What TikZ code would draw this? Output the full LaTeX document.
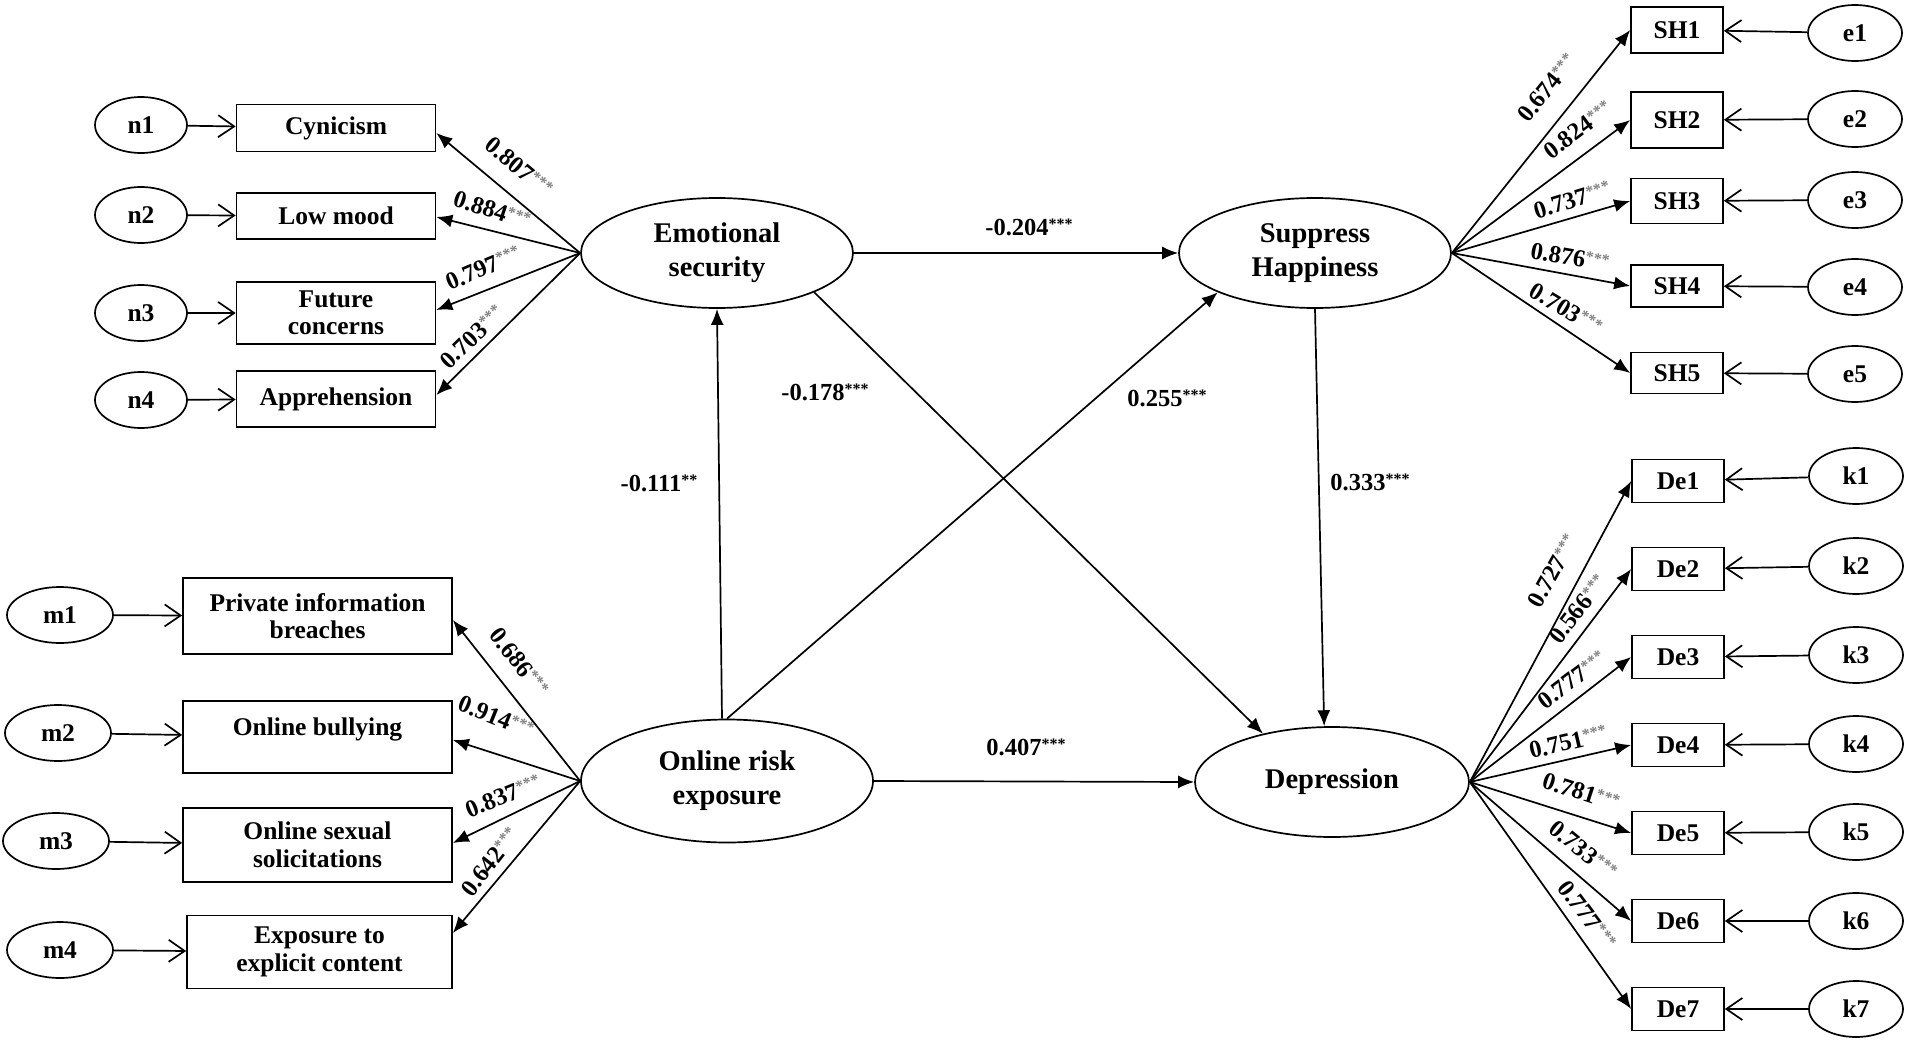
\documentclass[tikz,border=0pt]{standalone}
\usepackage{fontspec}
\setmainfont{Liberation Serif}
\usetikzlibrary{shapes.geometric,arrows.meta}
\newcommand{\myls}{\textcolor{gray}{\raisebox{6pt}{\fontsize{16}{16}\selectfont ***}}}
\newcommand{\myps}[1]{\raisebox{6pt}{\fontsize{16}{16}\selectfont #1}}
\tikzset{
  lat/.style={ellipse, draw, line width=1.7pt, inner sep=0pt, align=center,
    font=\fontsize{28.5}{34}\selectfont\bfseries},
  obs/.style={rectangle, draw, line width=1.7pt, inner sep=0pt, align=center,
    font=\fontsize{25.5}{27.5}\selectfont\bfseries},
  err/.style={ellipse, draw, line width=1.7pt, inner sep=0pt, minimum width=94pt,
    minimum height=56pt, font=\fontsize{25.5}{27}\selectfont\bfseries},
  ld/.style={inner sep=0pt, font=\fontsize{24.5}{26}\selectfont\bfseries},
  cp/.style={line width=1.7pt, -{Latex[length=16pt,width=13pt]}},
  ep/.style={line width=1.7pt, -{Straight Barb[length=16pt,width=22pt]}},
}
\begin{document}
\begin{tikzpicture}[x=1pt,y=-1pt]
\useasboundingbox (0,0) rectangle (1907,1046);
% latent variables
\node[lat, minimum width=272pt, minimum height=110pt] (ES) at (717,253) {Emotional\\security};
\node[lat, minimum width=272pt, minimum height=110pt] (SH) at (1315,253) {Suppress\\Happiness};
\node[lat, minimum width=292pt, minimum height=123pt] (ORE) at (727,781) {Online risk\\exposure};
\node[lat, minimum width=274pt, minimum height=110pt] (DEP) at (1332,782) {Depression};
% emotional security indicators
\node[obs, minimum width=199pt, minimum height=47pt] (cyn) at (336,128) {Cynicism};
\node[obs, minimum width=199pt, minimum height=46pt] (low) at (336,216) {Low mood};
\node[obs, minimum width=199pt, minimum height=62pt] (fut) at (336,313) {Future\\concerns};
\node[obs, minimum width=199pt, minimum height=56pt] (app) at (336,399) {Apprehension};
\node[err, minimum width=92pt] (n1) at (141,125) {n1};
\node[err, minimum width=92pt] (n2) at (141,215) {n2};
\node[err, minimum width=92pt] (n3) at (141,313) {n3};
\node[err, minimum width=92pt] (n4) at (141,400) {n4};
% online risk exposure indicators
\node[obs, minimum width=269pt, minimum height=76pt] (pib) at (317.5,616) {Private information\\breaches};
\node[obs, minimum width=269pt, minimum height=72pt, text height=18pt, text depth=21pt] (obl) at (317.5,737) {Online bullying};
\node[obs, minimum width=269pt, minimum height=74pt] (oss) at (317.5,845) {Online sexual\\solicitations};
\node[obs, minimum width=265pt, minimum height=73pt] (exc) at (319.5,952) {Exposure to\\explicit content};
\node[err, minimum width=106pt] (m1) at (60,615) {m1};
\node[err, minimum width=106pt] (m2) at (58,733) {m2};
\node[err, minimum width=106pt] (m3) at (56,841) {m3};
\node[err, minimum width=106pt] (m4) at (60,950) {m4};
% suppress happiness indicators
\node[obs, minimum width=92pt, minimum height=46pt] (sh1) at (1677,30) {SH1};
\node[obs, minimum width=92pt, minimum height=56pt] (sh2) at (1677,120) {SH2};
\node[obs, minimum width=92pt, minimum height=45pt] (sh3) at (1677,201) {SH3};
\node[obs, minimum width=92pt, minimum height=42pt] (sh4) at (1677,286) {SH4};
\node[obs, minimum width=92pt, minimum height=41pt] (sh5) at (1677,373) {SH5};
\node[err] (e1) at (1855,33) {e1};
\node[err] (e2) at (1855,119) {e2};
\node[err] (e3) at (1855,200) {e3};
\node[err] (e4) at (1855,287) {e4};
\node[err] (e5) at (1855,374) {e5};
% depression indicators
\node[obs, minimum width=92pt, minimum height=43pt] (de1) at (1678,481) {De1};
\node[obs, minimum width=92pt, minimum height=43pt] (de2) at (1678,569) {De2};
\node[obs, minimum width=92pt, minimum height=43pt] (de3) at (1678,657) {De3};
\node[obs, minimum width=92pt, minimum height=43pt] (de4) at (1678,745) {De4};
\node[obs, minimum width=92pt, minimum height=43pt] (de5) at (1678,833) {De5};
\node[obs, minimum width=92pt, minimum height=43pt] (de6) at (1678,921) {De6};
\node[obs, minimum width=92pt, minimum height=43pt] (de7) at (1678,1009) {De7};
\node[err] (k1) at (1856,476) {k1};
\node[err] (k2) at (1856,566) {k2};
\node[err] (k3) at (1856,655) {k3};
\node[err] (k4) at (1856,744) {k4};
\node[err] (k5) at (1856,832) {k5};
\node[err] (k6) at (1856,921) {k6};
\node[err] (k7) at (1856,1009) {k7};
% error arrows
\foreach \a/\b in {n1/cyn,n2/low,n3/fut,n4/app,m1/pib,m2/obl,m3/oss,m4/exc,
  e1/sh1,e2/sh2,e3/sh3,e4/sh4,e5/sh5,k1/de1,k2/de2,k3/de3,k4/de4,k5/de5,k6/de6,k7/de7}
  \draw[ep] (\a) -- (\b);
% loadings
\draw[cp] (ES.west) -- ([yshift=-5pt]cyn.east);
\draw[cp] (ES.west) -- ([yshift=-1pt]low.east);
\draw[cp] (ES.west) -- ([yshift=3pt]fut.east);
\draw[cp] (ES.west) -- ([yshift=4pt]app.east);
\draw[cp] (ORE.west) -- ([yshift=-4pt]pib.east);
\draw[cp] (ORE.west) -- ([yshift=-3pt]obl.east);
\draw[cp] (ORE.west) -- ([yshift=2pt]oss.east);
\draw[cp] (ORE.west) -- ([yshift=19pt]exc.east);
\foreach \b in {sh1,sh2,sh3,sh4,sh5} \draw[cp] (SH.east) -- (\b.west);
\foreach \b in {de1,de2,de3,de4,de5,de6,de7} \draw[cp] (DEP.east) -- (\b.west);
% structural paths
\draw[cp] (ES.east) -- (SH.west);
\draw[cp] ([xshift=-5pt]ORE.north) -- (ES.south);
\draw[cp] (ORE.north) -- (SH.202);
\draw[cp] (ES.-22) -- (DEP.145);
\draw[cp] (SH.south) -- (DEP.98);
\draw[cp] (ORE.east) -- (DEP.west);
% loading labels
\node[ld, rotate=-40] (l1) at (519,167) {0.807\myls};
\node[ld, rotate=-18] (l2) at (492,210) {0.884\myls};
\node[ld, rotate=23] (l3) at (483,268) {0.797\myls};
\node[ld, rotate=44] (l4) at (472,337) {0.703\myls};
\node[ld, rotate=-52] (l5) at (519,662) {0.686\myls};
\node[ld, rotate=-22] (l6) at (496,717) {0.914\myls};
\node[ld, rotate=22] (l7) at (503,796) {0.837\myls};
\node[ld, rotate=52] (l8) at (490,862) {0.642\myls};
\node[ld, rotate=51] (l9) at (1547,88) {0.674\myls};
\node[ld, rotate=37] (l10) at (1578,130) {0.824\myls};
\node[ld, rotate=17] (l11) at (1572,200) {0.737\myls};
\node[ld, rotate=-10] (l12) at (1570,257) {0.876\myls};
\node[ld, rotate=-31] (l13) at (1566,309) {0.703\myls};
\node[ld, rotate=61] (l14) at (1553,571) {0.727\myls};
\node[ld, rotate=52] (l15) at (1578,609) {0.566\myls};
\node[ld, rotate=37] (l16) at (1572,680) {0.777\myls};
\node[ld, rotate=13] (l17) at (1568,742) {0.751\myls};
\node[ld, rotate=-18] (l18) at (1581,792) {0.781\myls};
\node[ld, rotate=-39] (l19) at (1583,850) {0.733\myls};
\node[ld, rotate=-53] (l20) at (1587,915) {0.777\myls};
% path labels
\node[ld] (p1) at (1029,227) {-0.204\myps{***}};
\node[ld] (p2) at (825,392) {-0.178\myps{***}};
\node[ld] (p3) at (659,483) {-0.111\myps{**}};
\node[ld] (p4) at (1167,398) {0.255\myps{***}};
\node[ld] (p5) at (1370,482) {0.333\myps{***}};
\node[ld] (p6) at (1026,747) {0.407\myps{***}};
\end{tikzpicture}
\end{document}
